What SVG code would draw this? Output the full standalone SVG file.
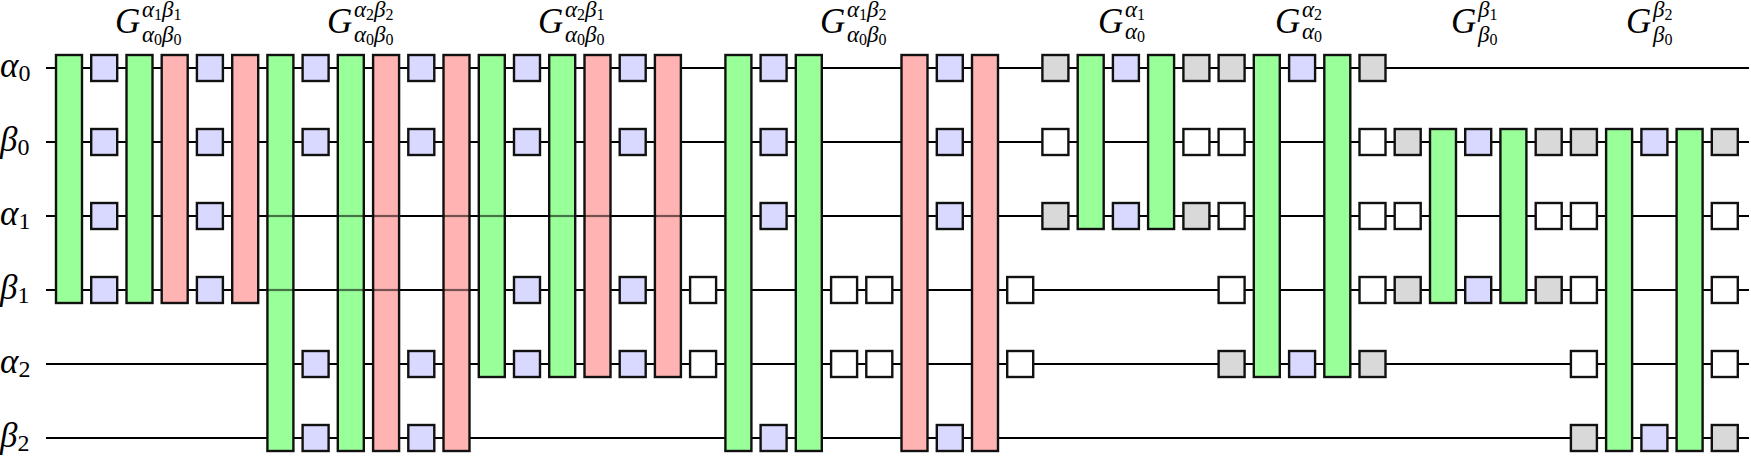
<svg xmlns="http://www.w3.org/2000/svg" width="1751" height="464" viewBox="0 0 1751 464">
<style>
.w{stroke:#000;stroke-width:2.2;fill:none}
.ov{stroke:#000;stroke-opacity:.55;stroke-width:2.2}
rect{stroke:#111;stroke-width:2.4}
.gr{fill:#99ff99}.rd{fill:#ffb3b3}.bl{fill:#d9d9ff}.gy{fill:#d9d9d9}.wh{fill:#fff}
text{font-family:"Liberation Serif","DejaVu Serif",serif;fill:#000}
.G{font-size:35px;font-style:italic}
.s{font-size:23px;font-style:italic}
.d{font-size:16px;font-style:normal}
.r{font-size:35px;font-style:italic}
.rd2{font-size:24px;font-style:normal}
</style>
<g id="wires" class="connectors">
<line class="w" x1="46" y1="68" x2="1749" y2="68"/>
<line class="w" x1="46" y1="142" x2="1749" y2="142"/>
<line class="w" x1="46" y1="216" x2="1749" y2="216"/>
<line class="w" x1="46" y1="290" x2="1749" y2="290"/>
<line class="w" x1="46" y1="364" x2="1749" y2="364"/>
<line class="w" x1="46" y1="438" x2="1749" y2="438"/>
</g>
<g id="labels">
<text class="r" x="0" y="77">α<tspan class="rd2" dy="4">0</tspan></text>
<text class="r" x="0" y="151">β<tspan class="rd2" dy="4">0</tspan></text>
<text class="r" x="0" y="225">α<tspan class="rd2" dy="4">1</tspan></text>
<text class="r" x="0" y="299">β<tspan class="rd2" dy="4">1</tspan></text>
<text class="r" x="0" y="373">α<tspan class="rd2" dy="4">2</tspan></text>
<text class="r" x="0" y="447">β<tspan class="rd2" dy="4">2</tspan></text>
</g>
<g id="titles">
<text class="G" x="115" y="33">G</text><text class="s" x="142" y="17">α<tspan class="d" dy="3">1</tspan><tspan dy="-3">β</tspan><tspan class="d" dy="3">1</tspan></text><text class="s" x="142" y="42">α<tspan class="d" dy="3">0</tspan><tspan dy="-3">β</tspan><tspan class="d" dy="3">0</tspan></text>
<text class="G" x="327" y="33">G</text><text class="s" x="354" y="17">α<tspan class="d" dy="3">2</tspan><tspan dy="-3">β</tspan><tspan class="d" dy="3">2</tspan></text><text class="s" x="354" y="42">α<tspan class="d" dy="3">0</tspan><tspan dy="-3">β</tspan><tspan class="d" dy="3">0</tspan></text>
<text class="G" x="538" y="33">G</text><text class="s" x="565" y="17">α<tspan class="d" dy="3">2</tspan><tspan dy="-3">β</tspan><tspan class="d" dy="3">1</tspan></text><text class="s" x="565" y="42">α<tspan class="d" dy="3">0</tspan><tspan dy="-3">β</tspan><tspan class="d" dy="3">0</tspan></text>
<text class="G" x="820" y="33">G</text><text class="s" x="847" y="17">α<tspan class="d" dy="3">1</tspan><tspan dy="-3">β</tspan><tspan class="d" dy="3">2</tspan></text><text class="s" x="847" y="42">α<tspan class="d" dy="3">0</tspan><tspan dy="-3">β</tspan><tspan class="d" dy="3">0</tspan></text>
<text class="G" x="1098" y="33">G</text><text class="s" x="1125" y="17">α<tspan class="d" dy="3">1</tspan></text><text class="s" x="1125" y="39">α<tspan class="d" dy="3">0</tspan></text>
<text class="G" x="1275" y="33">G</text><text class="s" x="1302" y="17">α<tspan class="d" dy="3">2</tspan></text><text class="s" x="1302" y="39">α<tspan class="d" dy="3">0</tspan></text>
<text class="G" x="1451" y="33">G</text><text class="s" x="1478" y="17">β<tspan class="d" dy="3">1</tspan></text><text class="s" x="1478" y="42">β<tspan class="d" dy="3">0</tspan></text>
<text class="G" x="1626" y="33">G</text><text class="s" x="1653" y="17">β<tspan class="d" dy="3">2</tspan></text><text class="s" x="1653" y="42">β<tspan class="d" dy="3">0</tspan></text>
</g>
<g id="gates">
<rect class="gr" x="56" y="55" width="26" height="248"/>
<rect class="gr" x="126.5" y="55" width="26" height="248"/>
<rect class="rd" x="161.7" y="55" width="26" height="248"/>
<rect class="rd" x="232.2" y="55" width="26" height="248"/>
<rect class="gr" x="267.4" y="55" width="26" height="396"/>
<rect class="gr" x="337.8" y="55" width="26" height="396"/>
<rect class="rd" x="373.1" y="55" width="26" height="396"/>
<rect class="rd" x="443.5" y="55" width="26" height="396"/>
<rect class="gr" x="478.8" y="55" width="26" height="322"/>
<rect class="gr" x="549.2" y="55" width="26" height="322"/>
<rect class="rd" x="584.5" y="55" width="26" height="322"/>
<rect class="rd" x="654.9" y="55" width="26" height="322"/>
<rect class="gr" x="725.4" y="55" width="26" height="396"/>
<rect class="gr" x="795.8" y="55" width="26" height="396"/>
<rect class="rd" x="901.5" y="55" width="26" height="396"/>
<rect class="rd" x="972" y="55" width="26" height="396"/>
<rect class="gr" x="1077.7" y="55" width="26" height="174"/>
<rect class="gr" x="1148.1" y="55" width="26" height="174"/>
<rect class="gr" x="1253.8" y="55" width="26" height="322"/>
<rect class="gr" x="1324.3" y="55" width="26" height="322"/>
<rect class="gr" x="1430" y="129" width="26" height="174"/>
<rect class="gr" x="1500.4" y="129" width="26" height="174"/>
<rect class="gr" x="1606.1" y="129" width="26" height="322"/>
<rect class="gr" x="1676.6" y="129" width="26" height="322"/>
</g>
<g id="overlay">
<line class="ov" x1="267.4" y1="216" x2="293.4" y2="216"/><line class="ov" x1="267.4" y1="290" x2="293.4" y2="290"/>
<line class="ov" x1="337.8" y1="216" x2="363.8" y2="216"/><line class="ov" x1="337.8" y1="290" x2="363.8" y2="290"/>
<line class="ov" x1="373.1" y1="216" x2="399.1" y2="216"/><line class="ov" x1="373.1" y1="290" x2="399.1" y2="290"/>
<line class="ov" x1="443.5" y1="216" x2="469.5" y2="216"/><line class="ov" x1="443.5" y1="290" x2="469.5" y2="290"/>
<line class="ov" x1="478.8" y1="216" x2="504.8" y2="216"/>
<line class="ov" x1="549.2" y1="216" x2="575.2" y2="216"/>
<line class="ov" x1="584.5" y1="216" x2="610.5" y2="216"/>
<line class="ov" x1="654.9" y1="216" x2="680.9" y2="216"/>
</g>
<g id="boxes">
<rect class="bl" x="91.2" y="55" width="26" height="26"/><rect class="bl" x="91.2" y="129" width="26" height="26"/><rect class="bl" x="91.2" y="203" width="26" height="26"/><rect class="bl" x="91.2" y="277" width="26" height="26"/>
<rect class="bl" x="196.9" y="55" width="26" height="26"/><rect class="bl" x="196.9" y="129" width="26" height="26"/><rect class="bl" x="196.9" y="203" width="26" height="26"/><rect class="bl" x="196.9" y="277" width="26" height="26"/>
<rect class="bl" x="302.6" y="55" width="26" height="26"/><rect class="bl" x="302.6" y="129" width="26" height="26"/><rect class="bl" x="302.6" y="351" width="26" height="26"/><rect class="bl" x="302.6" y="425" width="26" height="26"/>
<rect class="bl" x="408.3" y="55" width="26" height="26"/><rect class="bl" x="408.3" y="129" width="26" height="26"/><rect class="bl" x="408.3" y="351" width="26" height="26"/><rect class="bl" x="408.3" y="425" width="26" height="26"/>
<rect class="bl" x="514" y="55" width="26" height="26"/><rect class="bl" x="514" y="129" width="26" height="26"/><rect class="bl" x="514" y="277" width="26" height="26"/><rect class="bl" x="514" y="351" width="26" height="26"/>
<rect class="bl" x="619.7" y="55" width="26" height="26"/><rect class="bl" x="619.7" y="129" width="26" height="26"/><rect class="bl" x="619.7" y="277" width="26" height="26"/><rect class="bl" x="619.7" y="351" width="26" height="26"/>
<rect class="wh" x="690.1" y="277" width="26" height="26"/><rect class="wh" x="690.1" y="351" width="26" height="26"/>
<rect class="bl" x="760.6" y="55" width="26" height="26"/><rect class="bl" x="760.6" y="129" width="26" height="26"/><rect class="bl" x="760.6" y="203" width="26" height="26"/><rect class="bl" x="760.6" y="425" width="26" height="26"/>
<rect class="wh" x="831.1" y="277" width="26" height="26"/><rect class="wh" x="831.1" y="351" width="26" height="26"/>
<rect class="wh" x="866.3" y="277" width="26" height="26"/><rect class="wh" x="866.3" y="351" width="26" height="26"/>
<rect class="bl" x="936.8" y="55" width="26" height="26"/><rect class="bl" x="936.8" y="129" width="26" height="26"/><rect class="bl" x="936.8" y="203" width="26" height="26"/><rect class="bl" x="936.8" y="425" width="26" height="26"/>
<rect class="wh" x="1007.2" y="277" width="26" height="26"/><rect class="wh" x="1007.2" y="351" width="26" height="26"/>
<rect class="gy" x="1042.4" y="55" width="26" height="26"/><rect class="wh" x="1042.4" y="129" width="26" height="26"/><rect class="gy" x="1042.4" y="203" width="26" height="26"/>
<rect class="bl" x="1112.9" y="55" width="26" height="26"/><rect class="bl" x="1112.9" y="203" width="26" height="26"/>
<rect class="gy" x="1183.4" y="55" width="26" height="26"/><rect class="wh" x="1183.4" y="129" width="26" height="26"/><rect class="gy" x="1183.4" y="203" width="26" height="26"/>
<rect class="gy" x="1218.6" y="55" width="26" height="26"/><rect class="wh" x="1218.6" y="129" width="26" height="26"/><rect class="wh" x="1218.6" y="203" width="26" height="26"/><rect class="wh" x="1218.6" y="277" width="26" height="26"/><rect class="gy" x="1218.6" y="351" width="26" height="26"/>
<rect class="bl" x="1289.1" y="55" width="26" height="26"/><rect class="bl" x="1289.1" y="351" width="26" height="26"/>
<rect class="gy" x="1359.5" y="55" width="26" height="26"/><rect class="wh" x="1359.5" y="129" width="26" height="26"/><rect class="wh" x="1359.5" y="203" width="26" height="26"/><rect class="wh" x="1359.5" y="277" width="26" height="26"/><rect class="gy" x="1359.5" y="351" width="26" height="26"/>
<rect class="gy" x="1394.7" y="129" width="26" height="26"/><rect class="wh" x="1394.7" y="203" width="26" height="26"/><rect class="gy" x="1394.7" y="277" width="26" height="26"/>
<rect class="bl" x="1465.2" y="129" width="26" height="26"/><rect class="bl" x="1465.2" y="277" width="26" height="26"/>
<rect class="gy" x="1535.7" y="129" width="26" height="26"/><rect class="wh" x="1535.7" y="203" width="26" height="26"/><rect class="gy" x="1535.7" y="277" width="26" height="26"/>
<rect class="gy" x="1570.9" y="129" width="26" height="26"/><rect class="wh" x="1570.9" y="203" width="26" height="26"/><rect class="wh" x="1570.9" y="277" width="26" height="26"/><rect class="wh" x="1570.9" y="351" width="26" height="26"/><rect class="gy" x="1570.9" y="425" width="26" height="26"/>
<rect class="bl" x="1641.4" y="129" width="26" height="26"/><rect class="bl" x="1641.4" y="425" width="26" height="26"/>
<rect class="gy" x="1711.8" y="129" width="26" height="26"/><rect class="wh" x="1711.8" y="203" width="26" height="26"/><rect class="wh" x="1711.8" y="277" width="26" height="26"/><rect class="wh" x="1711.8" y="351" width="26" height="26"/><rect class="gy" x="1711.8" y="425" width="26" height="26"/>
</g>
</svg>
